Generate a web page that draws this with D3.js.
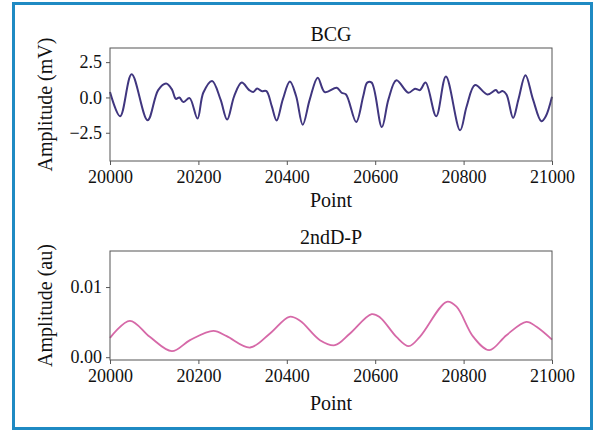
<!DOCTYPE html>
<html><head><meta charset="utf-8">
<script src="https://cdn.jsdelivr.net/npm/d3@7"></script>
<style>html,body{margin:0;padding:0;background:#fff;}svg{display:block;}</style>
</head><body>
<svg id="c" width="601" height="433"></svg>
<script>
// BCG signal (point index, amplitude in mV)
const bcgX = [20000,20023,20049,20085,20109,20127,20140,20149,20157,20166,20180,20198,20211,20231,20250,20265,20281,20298,20315,20324,20333,20343,20354,20366,20377,20391,20407,20421,20436,20452,20470,20486,20513,20524,20534,20557,20573,20582,20592,20615,20630,20648,20675,20690,20701,20714,20738,20760,20792,20807,20826,20854,20873,20879,20888,20897,20912,20924,20940,20957,20976,20986,21000];
const bcgY = [0.38,-1.33,1.64,-1.62,0.52,0.98,0.57,-0.1,0.0,-0.33,-0.05,-1.5,0.33,1.17,-0.14,-1.57,0.1,1.05,0.52,0.38,0.64,0.45,0.45,-0.62,-1.64,-0.14,1.12,0.1,-1.93,-0.14,1.4,0.38,0.69,0.33,0.21,-1.74,0.1,1.05,1.05,-2.1,-0.14,1.21,0.33,0.62,0.52,1.05,-1.33,1.48,-2.33,-0.62,0.88,0.21,0.52,0.33,0.45,0.21,-1.45,-0.14,1.57,-0.14,-1.69,-1.33,0.05];
// 2ndD-P signal (point index, amplitude in au)
const pX = [20000,20045,20090,20140,20181,20234,20264,20317,20362,20406,20430,20475,20509,20543,20592,20611,20648,20676,20701,20762,20784,20822,20858,20897,20942,20965,21000];
const pY = [0.00276,0.00519,0.0029,0.00086,0.00243,0.00376,0.0030,0.00138,0.00338,0.00576,0.00519,0.00243,0.00171,0.00338,0.00614,0.00567,0.0029,0.00157,0.0029,0.0079,0.0072,0.0029,0.0010,0.00314,0.00504,0.00433,0.00250];
// Tick labels
const xTicks = [20000,20200,20400,20600,20800,21000];
const bcgTicks = [2.5,0.0,-2.5];
const pTicks = [0.00,0.01];

const svg = d3.select("#c");
const FONT = "'Liberation Serif','DejaVu Serif',serif";

// frame
svg.append("rect").attr("x",13.5).attr("y",3.5).attr("width",578).attr("height",425)
  .attr("fill","none").attr("stroke","#1f8ac3").attr("stroke-width",3);

const x = d3.scaleLinear().domain([20000,21000]).range([110,552]);

function panel(cfg){
  const y = d3.scaleLinear().domain(cfg.domain).range([cfg.bottom, cfg.top]);
  const g = svg.append("g");
  const pts = cfg.xs.map((v,i)=>[v,cfg.ys[i]]);
  g.append("path").datum(pts)
    .attr("d", d3.line().x(d=>x(d[0])).y(d=>y(d[1])).curve(d3.curveCatmullRom.alpha(0.5)))
    .attr("fill","none").attr("stroke",cfg.color).attr("stroke-width",cfg.width)
    .attr("stroke-linejoin","round");
  g.append("rect").attr("x",110).attr("y",cfg.top).attr("width",442).attr("height",cfg.bottom-cfg.top)
    .attr("fill","none").attr("stroke","#555").attr("stroke-width",1);
  const xa = g.append("g").attr("transform",`translate(0,${cfg.bottom})`)
    .call(d3.axisBottom(x).tickValues(xTicks).tickFormat(d3.format("d")).tickSize(4).tickSizeOuter(0));
  const ya = g.append("g").attr("transform","translate(110,0)")
    .call(d3.axisLeft(y).tickValues(cfg.ticks).tickFormat(cfg.fmt).tickSize(4).tickSizeOuter(0));
  [xa,ya].forEach(a=>{
    a.select(".domain").remove();
    a.selectAll("line").attr("stroke","#555");
    a.selectAll("text").attr("font-family",FONT).attr("font-size",18).attr("fill","#111");
  });
  xa.selectAll("text").attr("dy","0.85em");
  ya.selectAll("text").attr("dx","-0.05em");
  g.append("text").attr("x",331).attr("y",cfg.top-7).attr("text-anchor","middle")
    .attr("font-family",FONT).attr("font-size",20).attr("fill","#111").text(cfg.title);
  g.append("text").attr("x",331).attr("y",cfg.bottom+cfg.pointGap).attr("text-anchor","middle")
    .attr("font-family",FONT).attr("font-size",20).attr("fill","#111").text("Point");
  g.append("text").attr("transform",`translate(52,${(cfg.top+cfg.bottom)/2}) rotate(-90)`)
    .attr("text-anchor","middle").attr("font-family",FONT).attr("font-size",20).attr("fill","#111")
    .text(cfg.ylabel);
}

panel({xs:bcgX, ys:bcgY, domain:[-4.5,3.5], top:48, bottom:161, ticks:bcgTicks, pointGap:46,
  fmt:d=>d3.format(".1f")(d).replace("-","\u2212"), color:"#40367f", width:2, title:"BCG", ylabel:"Amplitude (mV)"});
panel({xs:pX, ys:pY, domain:[-0.0004,0.01514], top:251, bottom:360, ticks:pTicks, pointGap:50,
  fmt:d3.format(".2f"), color:"#d669a8", width:1.8, title:"2ndD-P", ylabel:"Amplitude (au)"});
</script>
</body></html>
